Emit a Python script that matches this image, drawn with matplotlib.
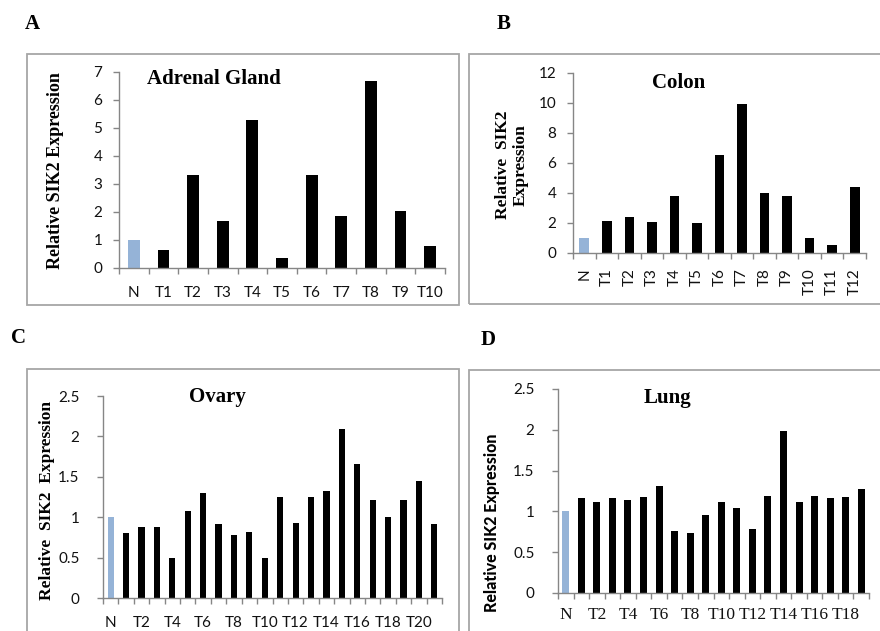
# coding: utf-8

"""
SIK2 expression in four tissues (N vs tumours), four bar panels
"""

import matplotlib
matplotlib.use("Agg")
import matplotlib.pyplot as plt
from matplotlib.patches import Rectangle
from matplotlib.ticker import FixedLocator, NullFormatter

#==========
# Data

adrenal_labels = ["N"] + ["T%d" % i for i in range(1, 11)]
adrenal_values = [1.0, 0.65, 3.32, 1.67, 5.3, 0.35, 3.32, 1.87, 6.67, 2.02, 0.8]

colon_labels = ["N"] + ["T%d" % i for i in range(1, 13)]
colon_values = [0.97, 2.15, 2.42, 2.07, 3.78, 1.98, 6.51, 9.93, 3.98, 3.78, 0.98, 0.51, 4.4]

ovary_labels = ["N"] + ["T%d" % i for i in range(1, 22)]
ovary_values = [1.0, 0.8, 0.88, 0.88, 0.49, 1.08, 1.3, 0.92, 0.78, 0.82, 0.49,
                1.25, 0.93, 1.25, 1.33, 2.09, 1.66, 1.21, 1.0, 1.21, 1.45, 0.92]

lung_labels = ["N"] + ["T%d" % i for i in range(1, 20)]
lung_values = [1.0, 1.16, 1.11, 1.16, 1.14, 1.18, 1.31, 0.76, 0.73, 0.96, 1.11,
               1.04, 0.79, 1.19, 1.99, 1.11, 1.19, 1.16, 1.18, 1.27]

#==========
# Layout helpers

W, H = 880, 631
BLUE = "#95b3d7"
AXIS = "#868686"
TXT = "#111111"
SERIF = "Liberation Serif"
SANS = "Lato"

def box(l, t, r, b):
	return [l / W, 1 - b / H, (r - l) / W, (b - t) / H]

def panel(fig, l, t, r, b):
	fig.patches.append(Rectangle((l / W, 1 - b / H), (r - l) / W, (b - t) / H,
		transform=fig.transFigure, fill=False, edgecolor="#a6a6a6", linewidth=1.3))

def bars(ax, labels, values, ymax, ystep, width, every=1, rotate=False,
         xfont=SANS, xpad=13, ypad=8):
	n = len(values)
	xs = list(range(n))
	colors = [BLUE] + ["black"] * (n - 1)
	ax.bar(xs, values, width=width, color=colors)
	ax.set_xlim(-0.5, n - 0.5)
	ax.set_ylim(0, ymax)
	ticks = []
	v = 0
	while v <= ymax + 1e-9:
		ticks.append(round(v, 2))
		v += ystep
	ax.set_yticks(ticks)
	ax.set_yticklabels(["%g" % t for t in ticks], fontfamily=SANS, fontsize=11, color=TXT)
	ax.tick_params(axis="y", length=4, width=1, color=AXIS, pad=ypad)
	# boundaries get the tick marks, centres get the labels
	ax.xaxis.set_major_locator(FixedLocator([i - 0.5 for i in range(n + 1)]))
	ax.xaxis.set_major_formatter(NullFormatter())
	pos = xs[::every]
	ax.xaxis.set_minor_locator(FixedLocator(pos))
	ax.set_xticklabels([labels[i] for i in pos], minor=True, fontfamily=xfont,
		fontsize=11 if xfont == SANS else 12.5, color=TXT,
		rotation=90 if rotate else 0)
	ax.tick_params(axis="x", which="major", length=4, width=1, color=AXIS)
	ax.tick_params(axis="x", which="minor", length=0, pad=xpad)
	for s in ["top", "right"]:
		ax.spines[s].set_visible(False)
	for s in ["left", "bottom"]:
		ax.spines[s].set_color(AXIS)
		ax.spines[s].set_linewidth(1)
	ax.set_facecolor("none")

def main():
	fig = plt.figure(figsize=(W / 100, H / 100), dpi=100)

	# panel frames
	panel(fig, 27, 54, 459, 305)
	panel(fig, 469, 54, 882, 304)
	panel(fig, 27, 369, 459, 640)
	panel(fig, 469, 370, 882, 640)

	# panel letters
	for x, y, s in [(32, 24, "A"), (504, 24, "B"), (18, 338, "C"), (488, 340, "D")]:
		fig.text(x / W, 1 - y / H, s, fontfamily=SERIF, fontweight="bold",
			fontsize=15, ha="center", va="center")

	# A: adrenal gland
	ax = fig.add_axes(box(119, 72, 445, 268))
	bars(ax, adrenal_labels, adrenal_values, 7, 1, 0.4, xpad=13)
	fig.text(214 / W, 1 - 79 / H, "Adrenal Gland", fontfamily=SERIF,
		fontweight="bold", fontsize=15, ha="center", va="center")
	fig.text(56 / W, 1 - 171 / H, "Relative SIK2 Expression", fontfamily=SERIF,
		fontweight="bold", fontsize=13, rotation=90, ha="center", va="center")

	# B: colon
	ax = fig.add_axes(box(573, 73, 866, 253))
	bars(ax, colon_labels, colon_values, 12, 2, 0.43, rotate=True, xpad=11)
	fig.text(679 / W, 1 - 83 / H, "Colon", fontfamily=SERIF,
		fontweight="bold", fontsize=15, ha="center", va="center")
	fig.text(512 / W, 1 - 165 / H, "Relative  SIK2\nExpression",
		fontfamily=SERIF, fontweight="bold", fontsize=12.5, rotation=90,
		ha="center", va="center", linespacing=1.1)

	# C: ovary
	ax = fig.add_axes(box(103, 396, 442, 598))
	bars(ax, ovary_labels, ovary_values, 2.5, 0.5, 0.4, every=2, xpad=13, ypad=13)
	fig.text(217 / W, 1 - 397 / H, "Ovary", fontfamily=SERIF,
		fontweight="bold", fontsize=15, ha="center", va="center")
	fig.text(47 / W, 1 - 500 / H, "Relative  SIK2  Expression", fontfamily=SERIF,
		fontweight="bold", fontsize=12.5, rotation=90, ha="center", va="center")

	# D: lung
	ax = fig.add_axes(box(558, 389, 869, 593))
	bars(ax, lung_labels, lung_values, 2.5, 0.5, 0.45, every=2, xfont=SERIF,
		xpad=10, ypad=13)
	fig.text(668 / W, 1 - 398 / H, "Lung", fontfamily=SERIF,
		fontweight="bold", fontsize=15, ha="center", va="center")
	fig.text(492 / W, 1 - 523 / H, "Relative SIK2 Expression", fontfamily=SANS,
		fontweight="black", fontsize=11.5, rotation=90, ha="center", va="center")

	fig.savefig("out.png", dpi=100)

if __name__ == "__main__":
	main()
